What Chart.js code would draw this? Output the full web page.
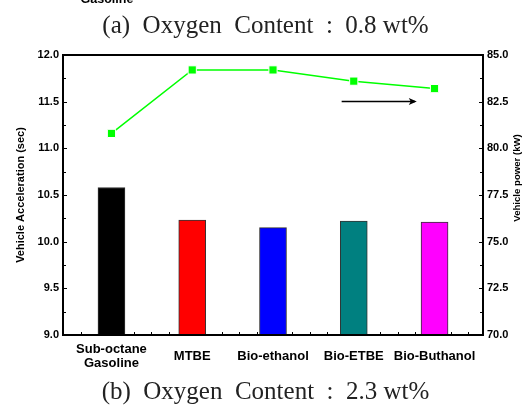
<!DOCTYPE html>
<html>
<head>
<meta charset="utf-8">
<title>Vehicle Acceleration / Power</title>
<script src="https://cdn.jsdelivr.net/npm/chart.js"></script>
<style>
  html, body { margin: 0; padding: 0; background: #fff; }
  .wrap { width: 531px; height: 405px; }
</style>
</head>
<body>
<div class="wrap"><canvas id="chart" width="531" height="405"></canvas></div>
<script>
// data
const fuels = [['Sub-octane', 'Gasoline'], 'MTBE', 'Bio-ethanol', 'Bio-ETBE', 'Bio-Buthanol'];
const acceleration = [10.58, 10.23, 10.15, 10.22, 10.21];
const power = [80.8, 84.2, 84.2, 83.6, 83.2];
const barColors = ['#000000', '#ff0000', '#0000ff', '#008080', '#ff00ff'];
const accelTicks = [9.0, 9.5, 10.0, 10.5, 11.0, 11.5, 12.0];
const powerTicks = [70.0, 72.5, 75.0, 77.5, 80.0, 82.5, 85.0];
const arrowX = [3.85, 4.78];   // arrow pointing to the right axis
const arrowY = 82.55;

const FONT = "'Liberation Sans', Arial, sans-serif";
const SERIF = "'Liberation Serif', 'Times New Roman', serif";

// small inward ticks along the bottom axis (Origin style)
const xMinor = [];
for (let v = 0.62; v < 5.6; v += 0.218) xMinor.push(v);

const mids = t => t.slice(1).map((v, i) => (v + t[i]) / 2);

const decor = {
  id: 'decor',
  beforeDatasetsDraw(chart) {
    const { ctx, chartArea: a, scales } = chart;
    ctx.save();
    ctx.strokeStyle = '#000';
    ctx.lineWidth = 1;
    const seg = (x1, y1, x2, y2) => { ctx.beginPath(); ctx.moveTo(x1, y1); ctx.lineTo(x2, y2); ctx.stroke(); };
    xMinor.forEach(v => {
      const px = Math.round(scales.x.getPixelForValue(v)) + 0.5;
      seg(px, a.bottom, px, a.bottom - 3);
    });
    accelTicks.forEach(v => { const py = Math.round(scales.y.getPixelForValue(v)) + 0.5; seg(a.left, py, a.left + 4, py); });
    mids(accelTicks).forEach(v => { const py = Math.round(scales.y.getPixelForValue(v)) + 0.5; seg(a.left, py, a.left + 3, py); });
    powerTicks.forEach(v => { const py = Math.round(scales.y1.getPixelForValue(v)) + 0.5; seg(a.right, py, a.right - 4, py); });
    mids(powerTicks).forEach(v => { const py = Math.round(scales.y1.getPixelForValue(v)) + 0.5; seg(a.right, py, a.right - 3, py); });
    ctx.restore();
  },
  afterDatasetsDraw(chart) {
    const { ctx, chartArea: a, scales } = chart;
    ctx.save();
    // frame
    ctx.strokeStyle = '#000';
    ctx.lineWidth = 2;
    ctx.strokeRect(a.left, a.top, a.right - a.left, a.bottom - a.top);
    // arrow
    const x1 = scales.x.getPixelForValue(arrowX[0]);
    const x2 = scales.x.getPixelForValue(arrowX[1]);
    const y = Math.round(scales.y1.getPixelForValue(arrowY)) + 0.5;
    ctx.lineWidth = 1.3;
    ctx.beginPath(); ctx.moveTo(x1, y); ctx.lineTo(x2 - 2, y); ctx.stroke();
    ctx.fillStyle = '#000';
    ctx.beginPath();
    ctx.moveTo(x2, y); ctx.lineTo(x2 - 8, y - 3.5); ctx.lineTo(x2 - 6, y); ctx.lineTo(x2 - 8, y + 3.5);
    ctx.closePath(); ctx.fill();
    ctx.restore();
  },
  afterDraw(chart) {
    const { ctx, chartArea: a } = chart;
    ctx.save();
    ctx.fillStyle = '#000';
    // right axis title reads bottom to top
    ctx.font = "bold 9.6px " + FONT;
    ctx.textAlign = 'center';
    ctx.textBaseline = 'middle';
    ctx.translate(517, (a.top + a.bottom) / 2 - 17);
    ctx.rotate(-Math.PI / 2);
    ctx.fillText('Vehicle power (kW)', 0, 0);
    ctx.restore();
    // tail of the panel above, cut by the page edge
    ctx.save();
    ctx.font = "bold 12.5px " + FONT;
    ctx.textAlign = 'center';
    ctx.textBaseline = 'alphabetic';
    ctx.fillText('Gasoline', 107, 3);
    ctx.restore();
  }
};

new Chart(document.getElementById('chart'), {
  data: {
    datasets: [
      {
        type: 'line',
        data: power.map((v, i) => ({ x: i + 1, y: v })),
        yAxisID: 'y1',
        borderColor: '#00ff00',
        borderWidth: 1.5,
        pointStyle: 'rect',
        pointRadius: 5.8,
        pointBackgroundColor: '#00ff00',
        pointBorderColor: '#ffffff',
        pointBorderWidth: 1,
        tension: 0
      },
      {
        type: 'bar',
        data: acceleration.map((v, i) => ({ x: i + 1, y: v })),
        yAxisID: 'y',
        backgroundColor: barColors,
        borderColor: '#333333',
        borderWidth: 1,
        barThickness: 27
      }
    ]
  },
  options: {
    responsive: false,
    animation: false,
    devicePixelRatio: 1,
    layout: { padding: 0 },
    plugins: {
      legend: { display: false },
      tooltip: { enabled: false },
      title: {
        display: true,
        text: '(a)  Oxygen  Content  :  0.8 wt%',
        color: '#222',
        font: { family: SERIF, size: 25, weight: 'normal', lineHeight: 1.2 },
        padding: { top: 11, bottom: 14 }
      },
      subtitle: {
        display: true,
        position: 'bottom',
        text: '(b)  Oxygen  Content  :  2.3 wt%',
        color: '#222',
        font: { family: SERIF, size: 25, weight: 'normal', lineHeight: 1 },
        padding: { top: 7, bottom: 0 }
      }
    },
    scales: {
      x: {
        type: 'linear',
        position: 'bottom',
        offset: false,
        min: 0.4,
        max: 5.6,
        grid: { display: false, drawTicks: false },
        border: { display: false },
        afterBuildTicks: s => { s.ticks = fuels.map((_, i) => ({ value: i + 1 })); },
        afterFit: s => { s.height = 38; },
        ticks: {
          autoSkip: false,
          maxRotation: 0,
          crossAlign: 'center',
          padding: 14,
          color: '#000',
          font: { family: FONT, size: 13, weight: 'bold', lineHeight: 1.12 },
          callback: v => fuels[v - 1]
        }
      },
      y: {
        position: 'left',
        min: 9,
        max: 12,
        grid: { display: false, drawTicks: false },
        border: { display: false },
        afterBuildTicks: s => { s.ticks = accelTicks.map(v => ({ value: v })); },
        afterFit: s => { s.width = 63; },
        ticks: {
          padding: 4,
          color: '#000',
          font: { family: FONT, size: 11, weight: 'bold' },
          callback: v => v.toFixed(1)
        },
        title: {
          display: true,
          text: 'Vehicle Acceleration (sec)',
          color: '#000',
          font: { family: FONT, size: 11, weight: 'bold', lineHeight: 1.2 },
          padding: { top: 14, bottom: 0 }
        }
      },
      y1: {
        position: 'right',
        min: 70,
        max: 85,
        grid: { display: false, drawTicks: false },
        border: { display: false },
        afterBuildTicks: s => { s.ticks = powerTicks.map(v => ({ value: v })); },
        afterFit: s => { s.width = 48; },
        ticks: {
          padding: 4,
          color: '#000',
          font: { family: FONT, size: 11, weight: 'bold' },
          callback: v => v.toFixed(1)
        }
      }
    }
  },
  plugins: [decor]
});
</script>
</body>
</html>
